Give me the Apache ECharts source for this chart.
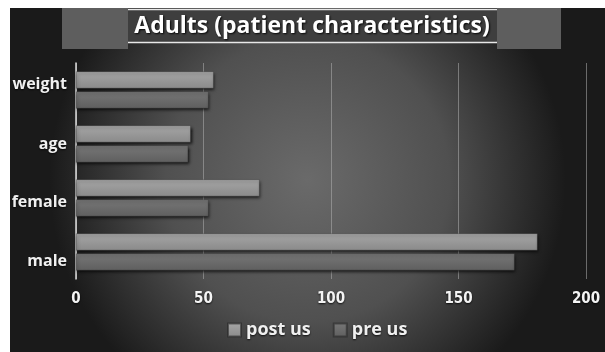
<!DOCTYPE html>
<html>
<head>
<meta charset="utf-8">
<script src="https://cdn.jsdelivr.net/npm/echarts@6/dist/echarts.min.js"></script>
<style>
  html, body { margin: 0; padding: 0; background: #ffffff; }
  #chart { width: 605px; height: 352px; }
</style>
</head>
<body>
<div id="chart"></div>
<script>
// Patient characteristics, adults: counts before and after
const categories = ['male', 'female', 'age', 'weight'];
const postUs = [181, 72, 45, 54];
const preUs = [172, 52, 44, 52];
const xTicks = [0, 50, 100, 150, 200];
const titleText = 'Adults (patient characteristics)';

const chart = echarts.init(document.getElementById('chart'), null, { renderer: 'canvas' });

const labelFont = '"Open Sans", "DejaVu Sans", sans-serif';
const shadowText = {
  textShadowColor: 'rgba(0,0,0,0.8)',
  textShadowBlur: 2,
  textShadowOffsetY: 1
};

// Category labels sit on a slightly wider spacing than the bands
const labelShift = { male: 9, female: 4, age: 0, weight: -6 };
const labelRich = {};
categories.forEach((c) => {
  const d = labelShift[c];
  labelRich[c] = {
    color: '#f0f0f0',
    fontFamily: labelFont,
    fontWeight: 'bold',
    fontSize: 16,
    padding: d >= 0 ? [2 * d, 0, 0, 0] : [0, 0, -2 * d, 0],
    ...shadowText
  };
});

const barStyle = (top, bottom) => ({
  color: new echarts.graphic.LinearGradient(0, 0, 0, 1, [
    { offset: 0, color: top },
    { offset: 1, color: bottom }
  ]),
  borderColor: 'rgba(40,40,40,0.6)',
  borderWidth: 0.5,
  shadowColor: 'rgba(0,0,0,0.85)',
  shadowBlur: 3,
  shadowOffsetX: 1,
  shadowOffsetY: 2
});

chart.setOption({
  animation: false,
  graphic: [
    {
      type: 'rect', z: -10, silent: true,
      shape: { x: 10, y: 8, width: 595, height: 344 },
      style: {
        fill: new echarts.graphic.RadialGradient(0.5, 0.5, 0.75, [
          { offset: 0, color: '#6a6a6a' },
          { offset: 0.55, color: '#505050' },
          { offset: 1, color: '#1a1a1a' }
        ])
      }
    },
    { type: 'rect', z: -5, silent: true, shape: { x: 62, y: 8, width: 66, height: 41 }, style: { fill: '#5e5e5e' } },
    { type: 'rect', z: -5, silent: true, shape: { x: 497, y: 8, width: 64, height: 41 }, style: { fill: '#5e5e5e' } },
    { type: 'rect', z: -4, silent: true, shape: { x: 128, y: 9, width: 369, height: 34 }, style: { fill: '#3e3e3e' } },
    { type: 'line', z: -3, silent: true, shape: { x1: 128, y1: 9.5, x2: 497, y2: 9.5 }, style: { stroke: '#e8e8e8', lineWidth: 1.5 } },
    { type: 'line', z: -3, silent: true, shape: { x1: 128, y1: 42.5, x2: 497, y2: 42.5 }, style: { stroke: '#e8e8e8', lineWidth: 1.5 } },
    {
      type: 'text', z: 5, silent: true,
      x: 312, y: 26,
      style: {
        text: titleText,
        fill: '#ffffff',
        font: 'bold 23px ' + labelFont,
        align: 'center',
        verticalAlign: 'middle',
        textShadowColor: 'rgba(0,0,0,0.9)',
        textShadowBlur: 2,
        textShadowOffsetX: 1,
        textShadowOffsetY: 1
      }
    }
  ],
  legend: {
    data: ['post us', 'pre us'],
    bottom: 8,
    left: 222,
    itemWidth: 13,
    itemHeight: 13,
    itemGap: 22,
    icon: 'rect',
    textStyle: {
      color: '#f0f0f0',
      fontFamily: labelFont,
      fontWeight: 'bold',
      fontSize: 18,
      ...shadowText
    }
  },
  grid: { left: 76, right: 19, top: 63, bottom: 73, containLabel: false },
  xAxis: {
    type: 'value',
    min: xTicks[0],
    max: xTicks[xTicks.length - 1],
    interval: xTicks[1] - xTicks[0],
    axisLine: { show: false },
    axisTick: { show: false },
    splitLine: { show: true, lineStyle: { color: 'rgba(175,175,175,0.55)', width: 1 } },
    axisLabel: {
      color: '#f4f4f4',
      fontFamily: '"Liberation Sans Narrow", "DejaVu Sans Condensed", sans-serif',
      fontWeight: 'bold',
      fontSize: 15,
      margin: 13,
      ...shadowText
    }
  },
  yAxis: {
    type: 'category',
    data: categories,
    axisLine: { show: true, lineStyle: { color: '#dcdcdc', width: 1.5 } },
    axisTick: { show: false },
    axisLabel: {
      margin: 9,
      formatter: (v) => '{' + v + '|' + v + '}',
      rich: labelRich
    }
  },
  series: [
    {
      name: 'post us',
      type: 'bar',
      data: postUs,
      barWidth: 17,
      barGap: '18%',
      itemStyle: barStyle('#a6a6a6', '#8a8a8a')
    },
    {
      name: 'pre us',
      type: 'bar',
      data: preUs,
      barWidth: 17,
      barGap: '18%',
      itemStyle: barStyle('#777777', '#5f5f5f')
    }
  ]
});
</script>
</body>
</html>
